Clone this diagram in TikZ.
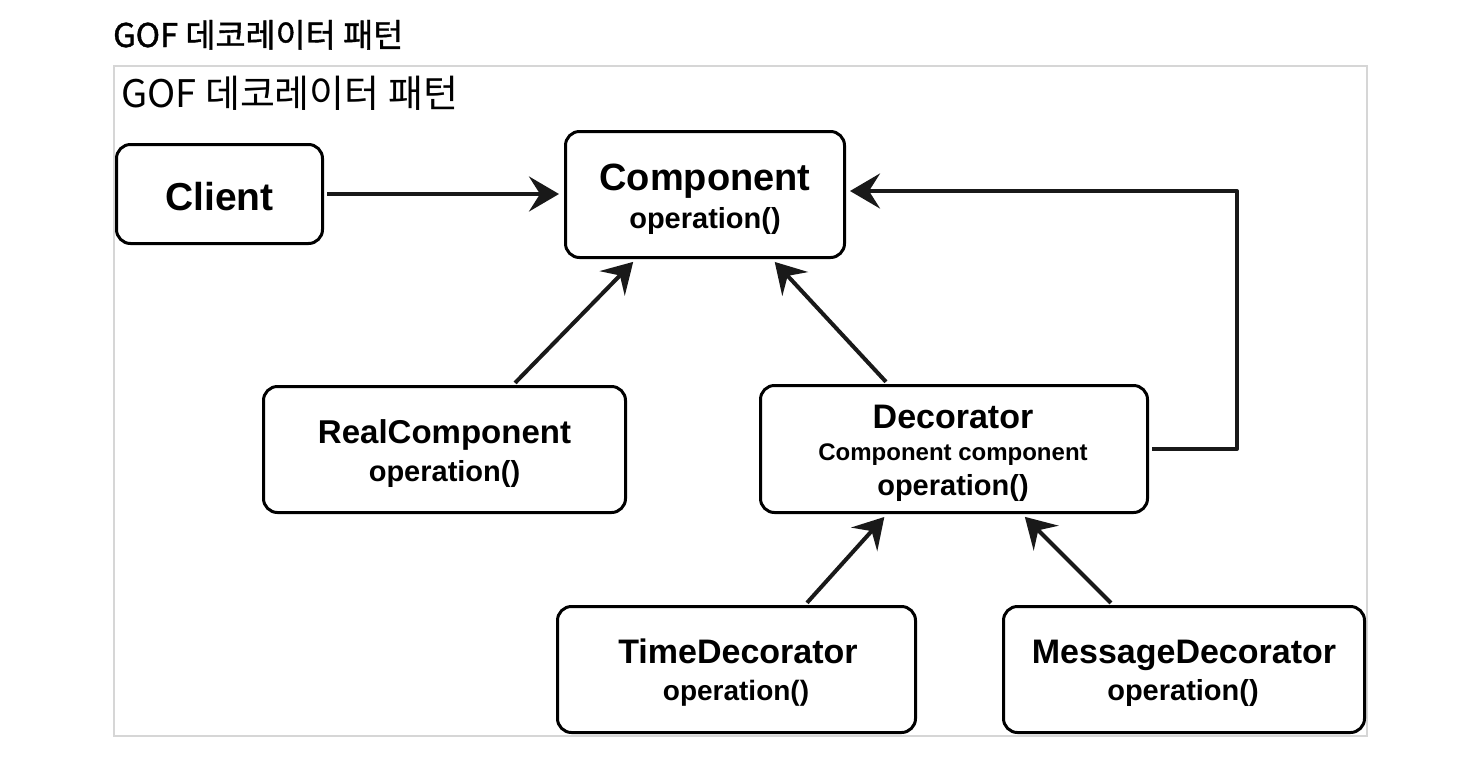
\documentclass[tikz,border=0pt]{standalone}
\usepackage{fontspec}
\setmainfont{Liberation Sans}
\newfontfamily\kr{Noto Sans CJK KR}
\newfontfamily\krb[FakeBold=1.2]{Noto Sans CJK KR}
\usetikzlibrary{arrows.meta,calc}
\begin{document}
\begin{tikzpicture}[x=1pt,y=-1pt,
  box/.style={draw=black, line width=3pt, rounded corners=14pt, inner sep=0pt},
  lbl/.style={anchor=base, inner sep=0pt, font=\bfseries\fontsize{#1}{#1}\selectfont},
  conn/.style={draw=black!90, line width=4pt, line join=round,
    -{Stealth[length=30pt,width=35pt,inset=11pt]}}]
\useasboundingbox (0,0) rectangle (1470,764);
\node[draw=black!16, line width=2pt, minimum width=1253pt, minimum height=670pt, inner sep=0pt] (frame) at (740.5,401) {};
\node[anchor=base west, inner sep=0pt, font=\krb\fontsize{32.7}{32.7}\selectfont] (title) at (113,47) {GOF 데코레이터 패턴};
\node[anchor=base west, inner sep=0pt, font=\kr\fontsize{38}{38}\selectfont] (inner) at (121,107) {GOF 데코레이터 패턴};
% boxes
\node[box, minimum width=206pt, minimum height=99pt] (client) at (219.5,194) {};
\node[box, minimum width=279pt, minimum height=126pt] (comp) at (705,194.5) {};
\node[box, minimum width=362pt, minimum height=126pt] (real) at (444.5,449.5) {};
\node[box, minimum width=387pt, minimum height=127pt] (deco) at (954,449) {};
\node[box, minimum width=358pt, minimum height=126pt] (time) at (736.5,669.5) {};
\node[box, minimum width=361pt, minimum height=126pt] (msg) at (1184,669.5) {};
% labels
\node[lbl=39] (clientT) at (219.5,210) {Client};
\node[lbl=38] (compT) at (705,190) {Component};
\node[lbl=29] (compOp) at (705,228) {operation()};
\node[lbl=33] (realT) at (444.5,443) {RealComponent};
\node[lbl=29] (realOp) at (444.5,481) {operation()};
\node[lbl=34] (decoT) at (953,428) {Decorator};
\node[lbl=24] (decoF) at (953,460) {Component component};
\node[lbl=29] (decoOp) at (953,495) {operation()};
\node[lbl=34] (timeT) at (738,663) {TimeDecorator};
\node[lbl=28] (timeOp) at (736,700) {operation()};
\node[lbl=34] (msgT) at (1184,663) {MessageDecorator};
\node[lbl=29] (msgOp) at (1183,700) {operation()};
% connectors
\coordinate (loop) at (1237,191);
\draw[conn, shorten <=3pt, shorten >=5pt] (client.east) -- (comp.west |- client.east);
\draw[conn, shorten <=3pt, shorten >=4pt] (513,0 |- real.north) -- (636,0 |- comp.south);
\draw[conn, shorten <=3pt, shorten >=4pt] (888,0 |- deco.north) -- (772,0 |- comp.south);
\draw[conn, shorten <=3pt, shorten >=4pt] (deco.east) -| (loop) -- (loop -| comp.east);
\draw[conn, shorten <=3pt, shorten >=4pt] (805,0 |- time.north) -- (887,0 |- deco.south);
\draw[conn, shorten <=3pt, shorten >=4pt] (1113,0 |- msg.north) -- (1022,0 |- deco.south);
\end{tikzpicture}
\end{document}
